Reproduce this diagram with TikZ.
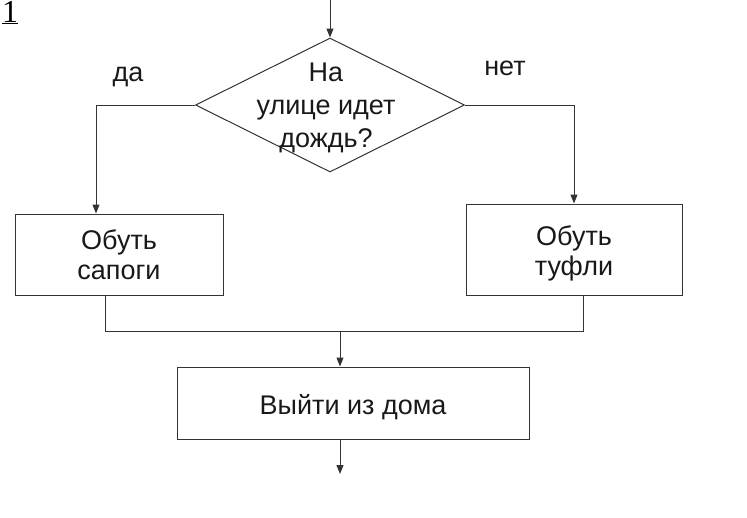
\documentclass[tikz,border=0pt]{standalone}
\usepackage{fontspec}
\setmainfont{Liberation Sans}
\newfontfamily\serifone{Liberation Serif}
\usetikzlibrary{shapes.geometric,arrows.meta}
\begin{document}
\begin{tikzpicture}[x=1pt,y=-1pt,
  line/.style={draw=black!80, line width=1pt},
  arr/.style={line, -{Triangle[length=9pt,width=7pt]}},
  txt/.style={font=\fontsize{27}{30}\selectfont, align=center, text=black!90},
  box/.style={txt, draw=black!80, line width=1pt, rectangle, inner sep=0pt},
  inlbl/.style={txt, yshift=-4pt},
  dec/.style={draw=black!80, line width=1pt, diamond, inner sep=0pt}
]
\path[use as bounding box, clip] (0,0) rectangle (747,517);

\node[font=\serifone\fontsize{32}{32}\selectfont, anchor=base west, inner sep=0pt] (num) at (2,22) {\underline{1}};

\node[dec, minimum width=269pt, minimum height=134pt] (dia) at (330,105) {};
\node[txt, font=\fontsize{27}{33}\selectfont] (q) at (326,108) {На\\улице идет\\дождь?};
\node[box, minimum width=208pt, minimum height=81pt] (lbox) at (119,254.5) {Обуть\\сапоги};
\node[box, minimum width=216pt, minimum height=91pt, label={[inlbl]center:{Обуть\\туфли}}] (rbox) at (574,249.5) {};
\node[box, minimum width=352pt, minimum height=72pt, label={[inlbl]center:{Выйти из дома}}] (bbox) at (353,403) {};

\node[txt] (yes) at (128,77) {да};
\node[txt] (no) at (505,68) {нет};

\coordinate (in) at (330,0);
\coordinate (m) at (340,331);
\coordinate (out) at (340,474);

\draw[arr] (in) -- (dia.north);
\draw[arr] (dia.west) -| ([xshift=-23pt]lbox.north);
\draw[arr] (dia.east) -| (rbox.north);
\draw[line] ([xshift=-14pt]lbox.south) |- (m);
\draw[line] ([xshift=9pt]rbox.south) |- (m);
\draw[arr] (m) -- (m |- bbox.north);
\draw[arr] (bbox.south -| m) -- (out);
\end{tikzpicture}
\end{document}
